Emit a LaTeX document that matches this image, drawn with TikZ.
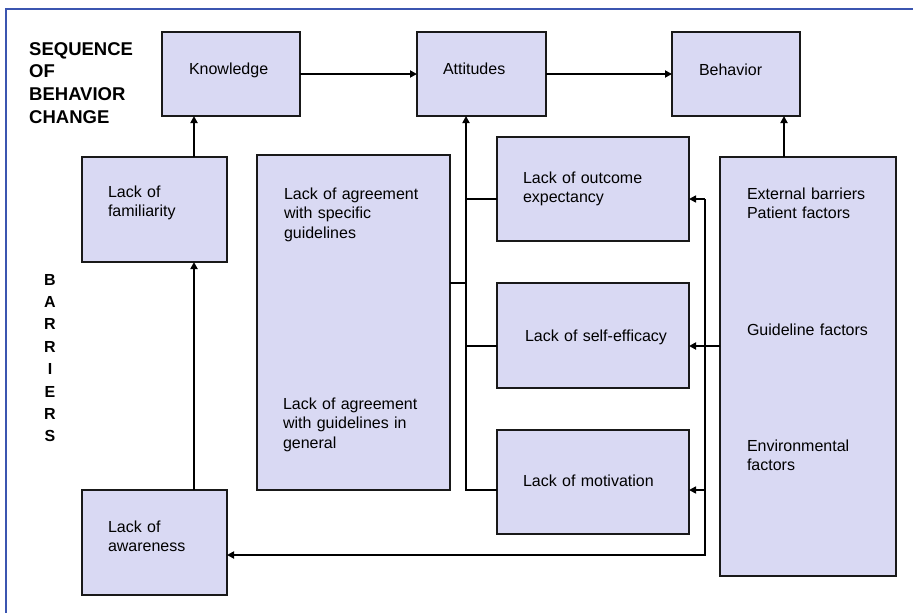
\documentclass[tikz,border=0pt]{standalone}
\usepackage{fontspec}
\setmainfont{Liberation Sans}
\usetikzlibrary{arrows.meta}

\definecolor{boxfill}{RGB}{217,217,243}
\definecolor{frameblue}{RGB}{59,85,176}

\begin{document}
\begin{tikzpicture}[x=1pt,y=-1pt,
  box/.style={draw=black!90, line width=1.8pt, fill=boxfill, inner sep=0pt, outer sep=0pt},
  txt/.style={anchor=base west, inner sep=0pt, outer sep=0pt, text width=170pt, align=left,
              font=\fontsize{16}{19.5}\selectfont},
  title/.style={anchor=base west, inner sep=0pt, text width=125pt, align=left,
              font=\fontsize{18.5}{22.7}\selectfont\bfseries},
  conn/.style={line width=2.3pt, black},
  arr/.style={conn, -{Triangle[length=7pt,width=7pt]}},
  thinarr/.style={line width=1.6pt, black, -{Triangle[length=7pt,width=7pt]}}
]
\useasboundingbox (0,0) rectangle (913,613);

% frame
\draw[frameblue, line width=2pt] (6,613) -- (6,8.5) -- (913,8.5);

% side headings
\node[title] (seq) at (29,55) {SEQUENCE\\OF\\BEHAVIOR\\CHANGE};
\node[anchor=base, inner sep=0pt, text width=20pt, align=center,
      font=\fontsize{16}{22.4}\selectfont\bfseries] (bar) at (50,285)
      {B\\A\\R\\R\\I\\E\\R\\S};

% stages of behaviour change
\node[box, minimum width=138pt, minimum height=84pt] (know) at (231,74) {};
\node[box, minimum width=129pt, minimum height=84pt] (att)  at (481.5,74) {};
\node[box, minimum width=128pt, minimum height=84pt] (beh)  at (736,74) {};

% barriers
\node[box, minimum width=145pt, minimum height=105pt] (fam) at (154.5,209.5) {};
\node[box, minimum width=145pt, minimum height=105pt] (aw)  at (154.5,542.5) {};
\node[box, minimum width=193pt, minimum height=335pt] (agr) at (353.5,322.5) {};
\node[box, minimum width=192pt, minimum height=104pt] (out) at (593,189) {};
\node[box, minimum width=192pt, minimum height=105pt] (eff) at (593,335.5) {};
\node[box, minimum width=192pt, minimum height=104pt] (mot) at (593,482) {};
\node[box, minimum width=176pt, minimum height=419pt] (ext) at (808,366.5) {};

% box texts
\node[txt] (knowT) at (189,74) {Knowledge};
\node[txt] (attT)  at (443,74) {Attitudes};
\node[txt] (behT)  at (699,75) {Behavior};
\node[txt] (famT)  at (108,197) {Lack of\\familiarity};
\node[txt] (awT)   at (108,532) {Lack of\\awareness};
\node[txt] (agrT1) at (284,199) {Lack of agreement\\with specific\\guidelines};
\node[txt] (agrT2) at (283,409) {Lack of agreement\\with guidelines in\\general};
\node[txt] (outT)  at (523,183) {Lack of outcome\\expectancy};
\node[txt] (effT)  at (525,341) {Lack of self-efficacy};
\node[txt] (motT)  at (523,486) {Lack of motivation};
\node[txt] (extT1) at (747,199) {External barriers\\Patient factors};
\node[txt] (extT2) at (747,335) {Guideline factors};
\node[txt] (extT3) at (747,451) {Environmental\\factors};

% routing lines
\coordinate (cL) at (194,0);
\coordinate (trunk) at (466,0);
\coordinate (spine) at (705,0);
\coordinate (cR) at (784,0);
\coordinate (rOut) at (0,199);
\coordinate (rAgr) at (0,283);
\coordinate (rEff) at (0,346);
\coordinate (rMot) at (0,490);
\coordinate (rAw) at (0,555);

% sequence arrows
\draw[arr] (know.east) -- (att.west);
\draw[arr] (att.east) -- (beh.west);
\draw[arr] (fam.north -| cL) -- (know.south -| cL);
\draw[arr] (aw.north -| cL) -- (fam.south -| cL);
\draw[arr] (ext.north -| cR) -- (beh.south -| cR);

% attitude barriers joined into one trunk
\draw[arr] (mot.west |- rMot) -| (att.south -| trunk);
\draw[conn] (out.west |- rOut) -- (trunk |- rOut);
\draw[conn] (eff.west |- rEff) -- (trunk |- rEff);
\draw[conn] (agr.east |- rAgr) -- (trunk |- rAgr);

% external barriers feeding back
\draw[arr] (ext.west |- rEff) -- (eff.east |- rEff);
\draw[arr] (spine |- rOut) -- (spine |- rAw) -- (aw.east |- rAw);
\draw[thinarr] (spine |- rOut) -- (out.east |- rOut);
\draw[thinarr] (spine |- rMot) -- (mot.east |- rMot);
\end{tikzpicture}
\end{document}
